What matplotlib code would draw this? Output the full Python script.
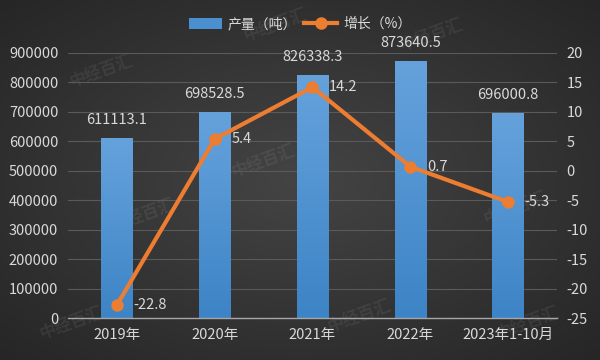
import numpy as np
import matplotlib
matplotlib.use("Agg")
import matplotlib.pyplot as plt
from matplotlib.patches import Patch
from matplotlib.lines import Line2D

plt.rcParams['font.family'] = ['Noto Sans CJK SC', 'DejaVu Sans']

categories = ["2019年", "2020年", "2021年", "2022年", "2023年1-10月"]
output_tons = [611113.1, 698528.5, 826338.3, 873640.5, 696000.8]
growth_pct = [-22.8, 5.4, 14.2, 0.7, -5.3]
left_ticks = [0, 100000, 200000, 300000, 400000, 500000, 600000, 700000, 800000, 900000]
right_ticks = [-25, -20, -15, -10, -5, 0, 5, 10, 15, 20]

TXT = "#d9d9d9"
BLUE = "#4a8fd0"
ORANGE = "#ed7d31"
FS = 10.5

fig = plt.figure(figsize=(6, 3.6), dpi=100)

# background radial gradient
bg = fig.add_axes([0, 0, 1, 1], zorder=-10)
yy, xx = np.mgrid[-1:1:200j, -1:1:300j]
r = np.sqrt(xx**2 + yy**2) / np.sqrt(2)
bg.imshow(r, cmap=matplotlib.colors.LinearSegmentedColormap.from_list("g", ["#444444", "#262626"]),
          extent=[0, 1, 0, 1], aspect='auto', origin='lower')
bg.set_xlim(0, 1)
bg.set_ylim(0, 1)
bg.axis('off')

# watermarks
for (wx, wy) in [(0.17, 0.80), (0.72, 0.90), (0.44, 0.55), (0.86, 0.42), (0.24, 0.40),
                 (0.60, 0.12), (0.88, 0.10), (0.12, 0.10), (0.46, 0.93)]:
    bg.text(wx, wy, "中经百汇", color="white", alpha=0.07, fontsize=12, rotation=20,
            ha='center', va='center', fontweight='bold', transform=bg.transAxes)

ax = fig.add_axes([68/600, 1-318/360, (557-68)/600, (318-53)/360])
ax.patch.set_alpha(0)
x = np.arange(len(categories))
bars = ax.bar(x, output_tons, width=0.32, color=BLUE, zorder=2)
ax.set_yticks(left_ticks)
ax.set_yticklabels([str(v) for v in left_ticks])
ax.set_xticks(x)
ax.set_xticklabels(categories)
ax.grid(axis='y', color="#5a5a5a", lw=0.8, zorder=0)
ax.set_axisbelow(True)
for s in ['top', 'right', 'left']:
    ax.spines[s].set_visible(False)
ax.spines['bottom'].set_color("#a6a6a6")
ax.spines['bottom'].set_linewidth(1.0)
ax.tick_params(axis='both', length=0, colors=TXT, labelsize=FS)
ax.tick_params(axis='x', pad=7)
ax.tick_params(axis='y', pad=7)

# gradient on bars
grad = np.linspace(0, 1, 100).reshape(-1, 1)
cm = matplotlib.colors.LinearSegmentedColormap.from_list("b", ["#3d84c6", "#65a2dc"])
for b in bars:
    x0, w, h = b.get_x(), b.get_width(), b.get_height()
    im = ax.imshow(grad, cmap=cm, extent=[x0, x0+w, 0, h], aspect='auto', origin='lower', zorder=2)
    im.set_clip_path(b)
ax.set_xlim(-0.5, len(categories)-0.5)
ax.set_ylim(0, 900000)

for xi, v in zip(x, output_tons):
    ax.annotate(f"{v:.1f}", (xi, v), xytext=(0, 13), textcoords='offset points',
                ha='center', va='center', color=TXT, fontsize=FS)

ax2 = ax.twinx()
ax2.set_ylim(-25, 20)
ax2.set_yticks(right_ticks)
ax2.set_yticklabels([str(v) for v in right_ticks])
for s in ax2.spines.values():
    s.set_visible(False)
ax2.tick_params(axis='y', length=0, colors=TXT, labelsize=FS, pad=7)
ax2.plot(x, growth_pct, color=ORANGE, lw=3, marker='o', markersize=8, zorder=5)
for xi, v in zip(x, growth_pct):
    ax2.annotate(f"{v}", (xi, v), xytext=(12, 0), textcoords='offset points',
                 ha='left', va='center', color=TXT, fontsize=FS)

handles = [Patch(facecolor=BLUE, edgecolor='none'),
           Line2D([0], [0], color=ORANGE, lw=3, marker='o', markersize=8)]
fig.legend(handles, ["产量（吨）", "增长（%）"], loc='center', bbox_to_anchor=(0.5, 0.933),
           ncol=2, frameon=False, fontsize=10, labelcolor=TXT, handlelength=2.4,
           handleheight=0.8, columnspacing=0.5, handletextpad=0.4)

fig.savefig("out.png", dpi=100)
